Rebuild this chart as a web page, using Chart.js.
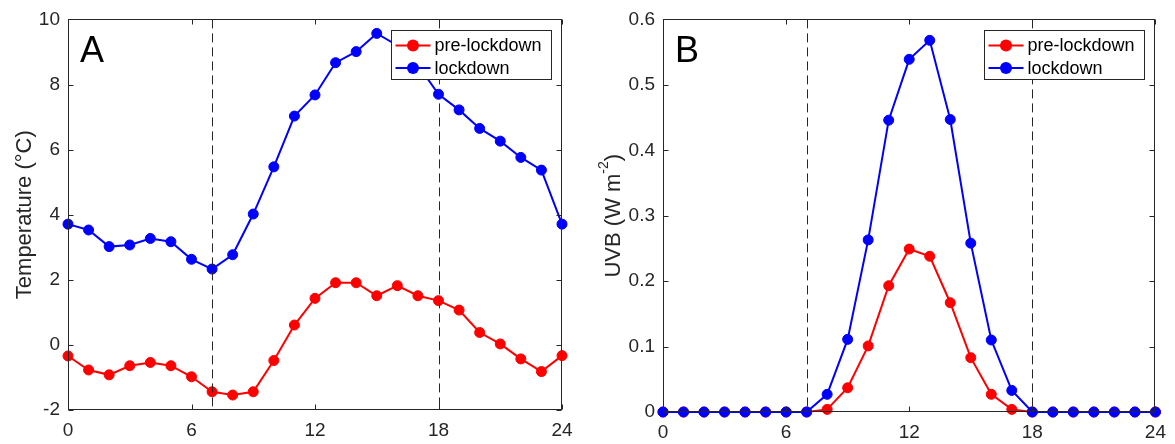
<!DOCTYPE html>
<html>
<head>
<meta charset="utf-8">
<script src="https://cdn.jsdelivr.net/npm/chart.js@4.4.1/dist/chart.umd.min.js"></script>
<style>
  html, body { margin: 0; padding: 0; background: #ffffff; }
  #wrap { position: relative; width: 1175px; height: 444px; overflow: hidden; background: #ffffff; }
  #wrap canvas { position: absolute; top: 0; }
</style>
</head>
<body>
<div id="wrap">
  <canvas id="tempChart" width="587" height="444" style="left:0px"></canvas>
  <canvas id="uvbChart" width="588" height="444" style="left:587px"></canvas>
</div>
<script>
// Hour of day (x axis for both panels)
const hours = [0, 1, 2, 3, 4, 5, 6, 7, 8, 9, 10, 11, 12, 13, 14, 15, 16, 17, 18, 19, 20, 21, 22, 23, 24];

// Panel A: mean air temperature (°C)
const tempPreLockdown = [-0.34, -0.77, -0.92, -0.64, -0.54, -0.64, -0.98, -1.44, -1.54, -1.44, -0.48, 0.61, 1.43,
                         1.91, 1.91, 1.51, 1.82, 1.51, 1.36, 1.07, 0.38, 0.03, -0.43, -0.82, -0.33];
const tempLockdown    = [3.71, 3.53, 3.02, 3.07, 3.27, 3.17, 2.63, 2.33, 2.77, 4.02, 5.47, 7.03, 7.68,
                         8.67, 9.01, 9.57, 9.20, 8.60, 7.70, 7.22, 6.65, 6.26, 5.76, 5.37, 3.71];

// Panel B: UVB irradiance (W m-2)
const uvbPreLockdown = [0, 0, 0, 0, 0, 0, 0, 0, 0.004, 0.037, 0.101, 0.193, 0.249,
                        0.238, 0.167, 0.083, 0.027, 0.004, 0, 0, 0, 0, 0, 0, 0];
const uvbLockdown    = [0, 0, 0, 0, 0, 0, 0, 0, 0.027, 0.111, 0.263, 0.446, 0.539,
                        0.568, 0.447, 0.258, 0.110, 0.033, 0, 0, 0, 0, 0, 0, 0];

// Series names
const seriesNames = ['pre-lockdown', 'lockdown'];

// Ticks
const hourTicks = [0, 6, 12, 18, 24];
const tempTicks = [-2, 0, 2, 4, 6, 8, 10];
const uvbTicks  = [0, 0.1, 0.2, 0.3, 0.4, 0.5, 0.6];
const uvbTickLabels = ['0', '0.1', '0.2', '0.3', '0.4', '0.5', '0.6'];

// Dashed reference hours (daylight window)
const refHours = [7, 18];

const FONT = '"Liberation Sans", Arial, Helvetica, sans-serif';
const INK = '#262626';
const RED = '#ff0000';
const BLUE = '#0000ff';

function series(label, values, color, order) {
  return {
    label: label,
    data: hours.map((h, i) => ({ x: h, y: values[i] })),
    borderColor: color,
    backgroundColor: color,
    pointBackgroundColor: color,
    pointBorderColor: color,
    pointRadius: 5,
    pointBorderWidth: 1,
    borderWidth: 2,
    tension: 0,
    clip: false,
    order: order
  };
}

// Frame, inward ticks, reference lines, legend, panel letter and y title
const panelDeco = {
  id: 'panelDeco',
  afterDatasetsDraw(chart, args, opts) {
    const ctx = chart.ctx;
    const a = chart.chartArea;
    const xs = chart.scales.x, ys = chart.scales.y;

    ctx.save();
    // dashed reference lines
    ctx.strokeStyle = INK;
    ctx.lineWidth = 1;
    ctx.setLineDash([9, 5]);
    refHours.forEach(h => {
      const px = Math.round(xs.getPixelForValue(h)) + 0.5;
      ctx.beginPath();
      ctx.moveTo(px, a.top);
      ctx.lineTo(px, a.bottom);
      ctx.stroke();
    });
    ctx.setLineDash([]);

    // frame
    const L = Math.round(a.left) + 0.5, R = Math.round(a.right) - 0.5;
    const T = Math.round(a.top) + 0.5, B = Math.round(a.bottom) - 0.5;
    ctx.strokeStyle = INK;
    ctx.lineWidth = 1;
    ctx.strokeRect(L, T, R - L, B - T);

    // inward tick marks on all four sides
    const tl = 5;
    ctx.beginPath();
    xs.ticks.forEach(t => {
      const px = Math.round(xs.getPixelForValue(t.value)) + 0.5;
      ctx.moveTo(px, B); ctx.lineTo(px, B - tl);
      ctx.moveTo(px, T); ctx.lineTo(px, T + tl);
    });
    ys.ticks.forEach(t => {
      const py = Math.round(ys.getPixelForValue(t.value)) + 0.5;
      ctx.moveTo(L, py); ctx.lineTo(L + tl, py);
      ctx.moveTo(R, py); ctx.lineTo(R - tl, py);
    });
    ctx.stroke();

    // legend box
    const lw = 160, lh = 49;
    const lx = Math.round(a.right - 11 - lw) + 0.5;
    const ly = Math.round(a.top + 11) + 0.5;
    ctx.fillStyle = '#ffffff';
    ctx.fillRect(lx, ly, lw, lh);
    ctx.strokeStyle = INK;
    ctx.strokeRect(lx, ly, lw, lh);
    ctx.font = '18px ' + FONT;
    ctx.textBaseline = 'middle';
    ctx.textAlign = 'left';
    const rows = [15, 37.5];
    chart.data.datasets.forEach((ds, i) => {
      const cy = ly + rows[i];
      ctx.strokeStyle = ds.borderColor;
      ctx.lineWidth = 2;
      ctx.beginPath();
      ctx.moveTo(lx + 4, cy);
      ctx.lineTo(lx + 39, cy);
      ctx.stroke();
      ctx.fillStyle = ds.borderColor;
      ctx.beginPath();
      ctx.arc(lx + 21.5, cy, 6, 0, Math.PI * 2);
      ctx.fill();
      ctx.fillStyle = '#000000';
      ctx.fillText(ds.label, lx + 43, cy + 1);
    });

    // panel letter
    ctx.fillStyle = '#000000';
    ctx.font = '36px ' + FONT;
    ctx.textBaseline = 'alphabetic';
    ctx.fillText(opts.letter, a.left + 12, a.top + 43);

    // rotated y axis title, with optional superscript
    ctx.fillStyle = INK;
    const parts = opts.title;
    const widths = parts.map(p => {
      ctx.font = (p.sup ? '14px ' : '22px ') + FONT;
      return ctx.measureText(p.text).width;
    });
    const total = widths.reduce((s, w) => s + w, 0);
    ctx.translate(opts.titleX, (a.top + a.bottom) / 2);
    ctx.rotate(-Math.PI / 2);
    let x = -total / 2;
    parts.forEach((p, i) => {
      ctx.font = (p.sup ? '14px ' : '22px ') + FONT;
      ctx.fillText(p.text, x, p.sup ? -12 : 0);
      x += widths[i];
    });
    ctx.restore();
  }
};

function makeChart(id, pre, lock, yMin, yMax, yTicks, yLabels, pad, yWidth, xHeight, deco) {
  return new Chart(document.getElementById(id), {
    type: 'line',
    data: {
      datasets: [
        series(seriesNames[0], pre, RED, 1),
        series(seriesNames[1], lock, BLUE, 0)
      ]
    },
    options: {
      responsive: false,
      animation: false,
      events: [],
      layout: { padding: pad },
      plugins: {
        legend: { display: false },
        tooltip: { enabled: false },
        panelDeco: deco
      },
      scales: {
        x: {
          type: 'linear',
          min: 0, max: 24,
          afterBuildTicks: s => { s.ticks = hourTicks.map(v => ({ value: v })); },
          afterFit: s => { s.height = xHeight; },
          grid: { display: false, drawTicks: false },
          border: { display: false },
          ticks: { color: INK, font: { family: FONT, size: 19 }, padding: 9, maxRotation: 0,
                   callback: v => String(v) }
        },
        y: {
          type: 'linear',
          min: yMin, max: yMax,
          afterBuildTicks: s => { s.ticks = yTicks.map(v => ({ value: v })); },
          afterFit: s => { s.width = yWidth; },
          grid: { display: false, drawTicks: false },
          border: { display: false },
          ticks: { color: INK, font: { family: FONT, size: 19 }, padding: 8,
                   callback: (v, i) => yLabels[i] }
        }
      }
    },
    plugins: [panelDeco]
  });
}

makeChart('tempChart', tempPreLockdown, tempLockdown, -2, 10, tempTicks, tempTicks.map(String),
  { left: 0, top: 19, right: 25, bottom: 0 }, 68, 34,
  { letter: 'A', titleX: 31, title: [{ text: 'Temperature (°C)' }] });

makeChart('uvbChart', uvbPreLockdown, uvbLockdown, 0, 0.6, uvbTicks, uvbTickLabels,
  { left: 0, top: 19, right: 14, bottom: 0 }, 76, 32,
  { letter: 'B', titleX: 33, title: [{ text: 'UVB (W m' }, { text: '-2', sup: true }, { text: ')' }] });
</script>
</body>
</html>
